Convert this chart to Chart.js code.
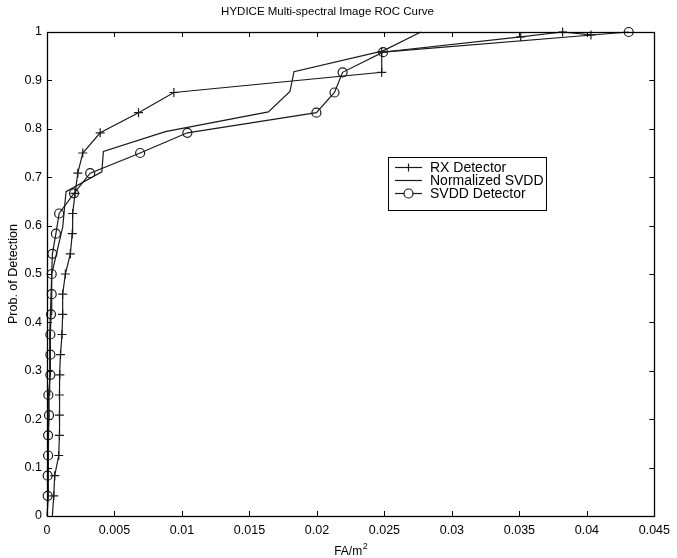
<!DOCTYPE html>
<html>
<head>
<meta charset="utf-8">
<script src="https://cdn.jsdelivr.net/npm/chart.js@4.4.1/dist/chart.umd.min.js"></script>
<style>
  html, body { margin: 0; padding: 0; background: #fff; }
</style>
</head>
<body>
<canvas id="roc" width="677" height="558"></canvas>
<script>
// values: false alarms per m^2 vs. probability of detection
const rxFa = [0.0004, 0.0005, 0.00057, 0.00087, 0.00092, 0.00092, 0.00092, 0.00095, 0.001, 0.00111,
  0.00116, 0.00116, 0.00136, 0.00173, 0.00187, 0.0019, 0.00208, 0.00228, 0.00265, 0.00394,
  0.00678, 0.0094, 0.0248, 0.0248, 0.0351, 0.0382, 0.0403];
const rxPd = [0, 0.0417, 0.0833, 0.125, 0.1667, 0.2083, 0.25, 0.2917, 0.3333, 0.375,
  0.4167, 0.4583, 0.5, 0.5417, 0.5833, 0.625, 0.6667, 0.7083, 0.75, 0.7917,
  0.8333, 0.875, 0.9167, 0.9583, 0.99, 1.0, 0.994];

const nsvddFa = [0, 0.0001, 0.0001, 0.00015, 0.0002, 0.00035, 0.00117, 0.00141, 0.00406, 0.00418,
  0.00877, 0.0164, 0.018, 0.0183, 0.0249, 0.0277];
const nsvddPd = [0, 0.04, 0.125, 0.25, 0.375, 0.5, 0.598, 0.67, 0.711, 0.753,
  0.794, 0.835, 0.877, 0.918, 0.961, 1.0];

const svddFa = [0.00005, 0.00005, 0.00008, 0.00008, 0.00015, 0.0001, 0.00025, 0.00025, 0.00025, 0.0003,
  0.00035, 0.00035, 0.0004, 0.00066, 0.0009, 0.002, 0.0032, 0.0069, 0.0104, 0.01996,
  0.0213, 0.0219, 0.0249, 0.0431];
const svddPd = [0.0417, 0.0833, 0.125, 0.1667, 0.2083, 0.25, 0.2917, 0.3333, 0.375, 0.4167,
  0.4583, 0.5, 0.5417, 0.5833, 0.625, 0.6667, 0.7083, 0.75, 0.7917, 0.8333,
  0.875, 0.9167, 0.9583, 1.0];

const xTicks = [0, 0.005, 0.01, 0.015, 0.02, 0.025, 0.03, 0.035, 0.04, 0.045];
const yTicks = [0, 0.1, 0.2, 0.3, 0.4, 0.5, 0.6, 0.7, 0.8, 0.9, 1];

const toPoints = (xs, ys) => xs.map((x, i) => ({ x: x, y: ys[i] }));
const ink = "#1a1a1a";
const family = "'Liberation Sans', Arial, Helvetica, sans-serif";

Chart.defaults.font.family = family;
Chart.defaults.font.size = 12;
Chart.defaults.color = "#000";

// matlab style axes box with inward ticks on all four sides
const frame = {
  id: "frame",
  afterDatasetsDraw(chart) {
    const { ctx, chartArea: a, scales } = chart;
    const len = 5;
    ctx.save();
    ctx.strokeStyle = "#000";
    ctx.lineWidth = 1;
    ctx.beginPath();
    xTicks.forEach((v) => {
      const px = Math.round(scales.x.getPixelForValue(v)) + 0.5;
      ctx.moveTo(px, a.bottom);
      ctx.lineTo(px, a.bottom - len);
      ctx.moveTo(px, a.top);
      ctx.lineTo(px, a.top + len);
    });
    yTicks.forEach((v) => {
      const py = Math.round(scales.y.getPixelForValue(v)) + 0.5;
      ctx.moveTo(a.left, py);
      ctx.lineTo(a.left + len, py);
      ctx.moveTo(a.right, py);
      ctx.lineTo(a.right - len, py);
    });
    ctx.stroke();
    ctx.lineWidth = 1.3;
    ctx.strokeRect(Math.round(a.left) + 0.5, Math.round(a.top) + 0.5,
      Math.round(a.right - a.left), Math.round(a.bottom - a.top));

    // x axis title with a real superscript
    const cx = (a.left + a.right) / 2;
    ctx.fillStyle = "#000";
    ctx.textBaseline = "alphabetic";
    ctx.font = "12px " + family;
    const base = "FA/m";
    const wBase = ctx.measureText(base).width;
    ctx.font = "9px " + family;
    const wSup = ctx.measureText("2").width;
    const x0 = cx - (wBase + wSup) / 2;
    ctx.font = "12px " + family;
    ctx.textAlign = "left";
    ctx.fillText(base, x0, 555);
    ctx.font = "9px " + family;
    ctx.fillText("2", x0 + wBase + 0.5, 549);
    ctx.restore();
  },
};

// legend box drawn inside the axes like the original
const boxLegend = {
  id: "boxLegend",
  afterDraw(chart) {
    const ctx = chart.ctx;
    const left = 388, top = 157, width = 158, height = 53;
    ctx.save();
    ctx.fillStyle = "#fff";
    ctx.fillRect(left, top, width, height);
    ctx.strokeStyle = "#000";
    ctx.lineWidth = 1;
    ctx.strokeRect(left + 0.5, top + 0.5, width, height);
    ctx.font = "14px " + family;
    ctx.textBaseline = "middle";
    chart.data.datasets.forEach((ds, i) => {
      const y = top + 10.5 + i * 13;
      ctx.strokeStyle = ink;
      ctx.lineWidth = 1.2;
      ctx.beginPath();
      ctx.moveTo(395, y);
      ctx.lineTo(422, y);
      ctx.stroke();
      if (ds.pointStyle === "cross") {
        ctx.beginPath();
        ctx.moveTo(408.5, y - 4);
        ctx.lineTo(408.5, y + 4);
        ctx.stroke();
      } else if (ds.pointStyle === "circle") {
        ctx.fillStyle = "#fff";
        ctx.beginPath();
        ctx.arc(408.5, y, 4.5, 0, Math.PI * 2);
        ctx.fill();
        ctx.stroke();
      }
      ctx.fillStyle = "#000";
      ctx.fillText(ds.label, 430, y + 0.5);
    });
    ctx.restore();
  },
};

const ctx = document.getElementById("roc").getContext("2d");

new Chart(ctx, {
  type: "scatter",
  data: {
    datasets: [
      {
        label: "RX Detector",
        data: toPoints(rxFa, rxPd),
        showLine: true,
        borderColor: ink,
        borderWidth: 1.2,
        pointStyle: "cross",
        pointRadius: rxPd.map((p) => (p === 0 ? 0 : 4.5)),
        pointBorderColor: ink,
        pointBorderWidth: 1.2,
        tension: 0,
        clip: false,
      },
      {
        label: "Normalized SVDD",
        data: toPoints(nsvddFa, nsvddPd),
        showLine: true,
        borderColor: ink,
        borderWidth: 1.2,
        pointRadius: 0,
        pointStyle: false,
        tension: 0,
        clip: false,
      },
      {
        label: "SVDD Detector",
        data: toPoints(svddFa, svddPd),
        showLine: true,
        borderColor: ink,
        borderWidth: 1.2,
        pointStyle: "circle",
        pointRadius: 4.5,
        pointBackgroundColor: "rgba(0,0,0,0)",
        pointBorderColor: ink,
        pointBorderWidth: 1.2,
        tension: 0,
        clip: false,
      },
    ],
  },
  options: {
    responsive: false,
    animation: false,
    events: [],
    layout: { padding: { left: 0, right: 22, top: 0, bottom: 0 } },
    plugins: {
      legend: { display: false },
      tooltip: { enabled: false },
      title: {
        display: true,
        text: "HYDICE Multi-spectral Image ROC Curve",
        color: "#000",
        font: { size: 11.5, weight: "normal" },
        padding: { top: 5, bottom: 13.2 },
      },
    },
    scales: {
      x: {
        type: "linear",
        min: 0,
        max: 0.045,
        afterBuildTicks: (scale) => {
          scale.ticks = xTicks.map((v) => ({ value: v }));
        },
        afterFit: (scale) => {
          scale.height = 42;
        },
        grid: { display: false, drawTicks: false },
        border: { display: false },
        ticks: {
          padding: 7,
          maxRotation: 0,
          autoSkip: false,
          font: { size: 12.5 },
          callback: (v) => String(v),
        },
        title: { display: false },
      },
      y: {
        type: "linear",
        min: 0,
        max: 1,
        afterBuildTicks: (scale) => {
          scale.ticks = yTicks.map((v) => ({ value: v }));
        },
        afterFit: (scale) => {
          scale.width = 47;
        },
        grid: { display: false, drawTicks: false },
        border: { display: false },
        ticks: {
          padding: 5,
          autoSkip: false,
          font: { size: 12.5 },
          callback: (v) => String(v),
        },
        title: {
          display: true,
          text: "Prob. of Detection",
          font: { size: 12.5 },
          padding: { top: 6, bottom: 0 },
        },
      },
    },
  },
  plugins: [frame, boxLegend],
});
</script>
</body>
</html>
